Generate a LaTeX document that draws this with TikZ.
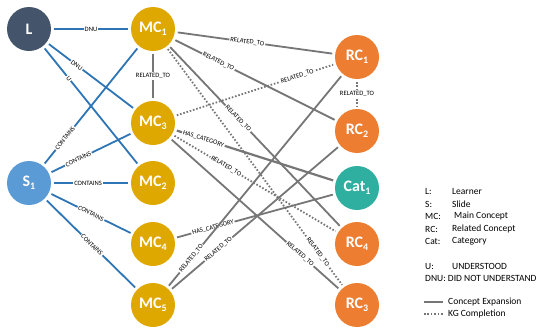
\documentclass[tikz,border=0pt]{standalone}
\usepackage{fontspec}
\setmainfont{Carlito}
\newcommand{\mysub}[1]{{\fontsize{10}{10}\selectfont\raisebox{-3pt}{#1}}}
\definecolor{cL}{HTML}{44546A}
\definecolor{cS}{HTML}{5B9BD5}
\definecolor{cMC}{HTML}{DFA800}
\definecolor{cRC}{HTML}{ED7D31}
\definecolor{cCat}{HTML}{2EAFA0}
\definecolor{cBlue}{HTML}{2E75B6}
\definecolor{cGray}{HTML}{767676}
\tikzset{
  circ/.style={circle,minimum size=44pt,inner sep=0pt,outer sep=3pt,text=white,font=\fontsize{16}{16}\selectfont\bfseries},
  bl/.style={draw=cBlue,line width=1.8pt},
  gr/.style={draw=cGray,line width=1.8pt},
  dt/.style={draw=cGray,line width=1.8pt,dash pattern=on 1.6pt off 1.8pt},
  lab/.style={fill=white,inner sep=1pt,sloped,font=\fontsize{6.6}{7}\selectfont,text=black},
  leg/.style={anchor=west,inner sep=0pt,font=\fontsize{9.5}{10}\selectfont}
}
\begin{document}
\begin{tikzpicture}[x=1pt,y=-1pt]
\useasboundingbox (0,0) rectangle (543,333);
\node[circ,fill=cL] (L) at (29,29) {L};
\node[circ,fill=cS] (S1) at (29,183) {S\mysub{1}};
\node[circ,fill=cMC] (MC1) at (153,29) {MC\mysub{1}};
\node[circ,fill=cMC] (MC3) at (153,123) {MC\mysub{3}};
\node[circ,fill=cMC] (MC2) at (153,183) {MC\mysub{2}};
\node[circ,fill=cMC] (MC4) at (153,244) {MC\mysub{4}};
\node[circ,fill=cMC] (MC5) at (153,305) {MC\mysub{5}};
\node[circ,fill=cRC] (RC1) at (357,57) {RC\mysub{1}};
\node[circ,fill=cRC] (RC2) at (357,131) {RC\mysub{2}};
\node[circ,fill=cCat] (Cat1) at (357,188) {Cat\mysub{1}};
\node[circ,fill=cRC] (RC4) at (357,244) {RC\mysub{4}};
\node[circ,fill=cRC] (RC3) at (357,305) {RC\mysub{3}};
% blue edges
\draw[bl] (L) -- node[lab,pos=0.5]{DNU} (MC1);
\draw[bl] (L) -- node[lab,pos=0.33]{DNU} (MC3);
\draw[bl] (L) -- node[lab,pos=0.26]{U} (MC2);
\draw[bl] (S1) -- node[lab,pos=0.22]{CONTAINS} (MC1);
\draw[bl] (S1) -- node[lab,pos=0.34]{CONTAINS} (MC3);
\draw[bl] (S1) -- node[lab,pos=0.46]{CONTAINS} (MC2);
\draw[bl] (S1) -- node[lab,pos=0.5]{CONTAINS} (MC4);
\draw[bl] (S1) -- node[lab,pos=0.51]{CONTAINS} (MC5);
% gray edges
\draw[gr] (MC1) -- node[lab,pos=0.45]{RELATED\_TO} (RC1);
\draw[gr] (MC1) -- node[lab,pos=0.27]{RELATED\_TO} (RC2);
\draw[gr] (MC1) -- node[lab,pos=0.5,sloped=false]{RELATED\_TO} (MC3);
\draw[gr] (MC1) -- node[lab,pos=0.40]{RELATED\_TO} (RC4);
\draw[dt] (MC1) -- node[lab,pos=0.86]{RELATED\_TO} (RC3);
\draw[dt] (MC3) -- node[lab,pos=0.77]{RELATED\_TO} (RC1);
\draw[gr,line width=2.2pt] (MC3) -- node[lab,pos=0.17]{HAS\_CATEGORY} (Cat1);
\draw[dt] (MC3) -- node[lab,pos=0.32]{RELATED\_TO} (RC4);
\draw[gr] (MC3) -- node[lab,pos=0.77]{RELATED\_TO} (RC3);
\draw[gr] (MC4) -- node[lab,pos=0.23]{HAS\_CATEGORY} (Cat1);
\draw[gr] (MC5) -- node[lab,pos=0.13]{RELATED\_TO} (RC1);
\draw[gr] (MC5) -- node[lab,pos=0.28]{RELATED\_TO} (RC2);
\draw[dt] (RC1) -- node[lab,pos=0.5,sloped=false]{RELATED\_TO} (RC2);
% legend
\node[leg] (k1) at (425,191) {L:};   \node[leg] (v1) at (452,191) {Learner};
\node[leg] (k2) at (425,204) {S:};   \node[leg] (v2) at (452,204) {Slide};
\node[leg] (k3) at (425,216) {MC:};  \node[leg] (v3) at (454,216) {Main Concept};
\node[leg] (k4) at (425,229) {RC:};  \node[leg] (v4) at (452,229) {Related Concept};
\node[leg] (k5) at (425,241) {Cat:}; \node[leg] (v5) at (452,241) {Category};
\node[leg] (k6) at (425,266) {U:};   \node[leg] (v6) at (452,266) {UNDERSTOOD};
\node[leg] (k7) at (425,278) {DNU: DID NOT UNDERSTAND};
\coordinate (a1) at (424,302); \coordinate (b1) at (443,302);
\draw[gr] (a1) -- (b1);
\node[leg] (v8) at (448,302) {Concept Expansion};
\coordinate (a2) at (424,314); \coordinate (b2) at (443,314);
\draw[dt] (a2) -- (b2);
\node[leg] (v9) at (448,314) {KG Completion};
\end{tikzpicture}
\end{document}
